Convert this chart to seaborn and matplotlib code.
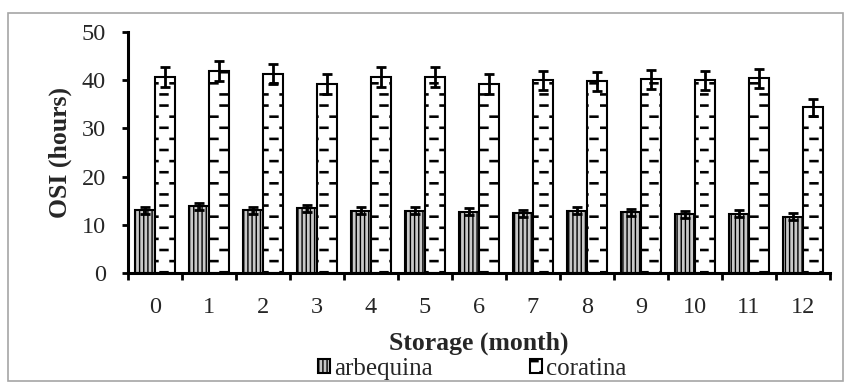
import numpy as np
import pandas as pd
import matplotlib
matplotlib.use("Agg")
import matplotlib.pyplot as plt
import seaborn as sns
from matplotlib import hatch as mhatch
from matplotlib.path import Path
from matplotlib.patches import Rectangle

# data
months = [str(m) for m in range(13)]
arbequina = [13.0, 13.8, 13.0, 13.4, 12.9, 12.9, 12.7, 12.4, 12.9, 12.6, 12.2, 12.3, 11.7]
arbequina_err = [0.7, 0.8, 0.7, 0.8, 0.7, 0.7, 0.7, 0.7, 0.7, 0.7, 0.7, 0.7, 0.7]
coratina = [40.6, 41.9, 41.3, 39.2, 40.6, 40.6, 39.2, 40.0, 39.8, 40.2, 40.0, 40.4, 34.4]
coratina_err = [2.1, 2.1, 2.1, 2.0, 2.1, 2.1, 2.0, 2.0, 2.0, 2.0, 2.0, 2.0, 1.8]
cultivars = ["arbequina", "coratina"]


# excel-like "dashed horizontal" fill: short staggered dashes instead of full lines
class DashedHorizontalHatch(mhatch.HatchPatternBase):
    def __init__(self, hatch, density):
        n = hatch.count('-')
        self.rows = 9 * n
        self.cols = 5
        self.num_vertices = self.rows * self.cols * 5 if n else 0

    def set_vertices_and_codes(self, vertices, codes):
        dash, thick = 0.08, 0.006
        k = 0
        for i in range(self.rows):
            y = (i + 0.5) / self.rows
            shift = 0.5 if i % 2 else 0.0
            for j in range(self.cols):
                x0 = (j + shift) / self.cols
                pts = [(x0, y - thick), (x0 + dash, y - thick),
                       (x0 + dash, y + thick), (x0, y + thick), (x0, y - thick)]
                vertices[k:k + 5] = pts
                codes[k:k + 5] = [Path.MOVETO, Path.LINETO, Path.LINETO,
                                  Path.LINETO, Path.CLOSEPOLY]
                k += 5


mhatch._hatch_types = [DashedHorizontalHatch if t is mhatch.HorizontalHatch else t
                       for t in mhatch._hatch_types]

sns.set_style("white")
plt.rcParams['font.family'] = ['Liberation Serif', 'DejaVu Serif']
plt.rcParams['hatch.linewidth'] = 1.0

df = pd.DataFrame({
    "month": months * 2,
    "cultivar": [cultivars[0]] * len(months) + [cultivars[1]] * len(months),
    "osi": arbequina + coratina,
})

fig = plt.figure(figsize=(8.44, 3.82), dpi=100)
ax = fig.add_axes([128 / 844, 1 - 273 / 382, 702 / 844, 241 / 382])

sns.barplot(data=df, x="month", y="osi", hue="cultivar", order=months,
            hue_order=cultivars, palette=["#c8c8c8", "white"], saturation=1,
            width=0.74, edgecolor="black", linewidth=1.5, errorbar=None, ax=ax)

bar_sets = list(ax.containers)
hatches = ["||||", "-"]
errs = [arbequina_err, coratina_err]
for cont, h, err in zip(bar_sets, hatches, errs):
    xs = []
    ys = []
    for bar in cont.patches:
        bar.set_hatch(h)
        xs.append(bar.get_x() + bar.get_width() / 2)
        ys.append(bar.get_height())
    ax.errorbar(xs, ys, yerr=err, fmt="none", ecolor="black", elinewidth=2,
                capsize=3.5, capthick=2, zorder=5)

ax.set_ylim(0, 50)
ax.set_yticks([0, 10, 20, 30, 40, 50])
ax.set_xlim(-0.5, 12.5)
ax.set_xticks(np.arange(13))
ax.set_xticklabels(months)
ax.set_xticks(np.arange(-0.5, 13), minor=True)
ax.tick_params(axis="x", which="major", length=0, pad=17, labelsize=17.5)
ax.tick_params(axis="x", which="minor", length=5, width=2, direction="out", color="black")
ax.tick_params(axis="y", length=4, width=2, direction="out", color="black", pad=12, labelsize=17.5)
ax.tick_params(left=True, bottom=True)
ax.xaxis.set_tick_params(which="minor", bottom=True)

for side in ["top", "right"]:
    ax.spines[side].set_visible(False)
for side in ["left", "bottom"]:
    ax.spines[side].set_color("black")
    ax.spines[side].set_linewidth(2.2)

ax.set_xlabel("Storage (month)", fontsize=18.5, fontweight="bold", labelpad=10)
ax.set_ylabel("OSI (hours)", fontsize=18.5, fontweight="bold", labelpad=7)

ax.get_legend().remove()
handles = [cont.patches[0] for cont in bar_sets]
fig.legend(handles, cultivars, loc="center", bbox_to_anchor=(472 / 844, 1 - 369 / 382),
           ncol=2, frameon=False, handlelength=0.5, handleheight=0.5,
           handletextpad=0.15, columnspacing=3.9, fontsize=18, borderpad=0)

# light grey chart-area border
fig.patches.append(Rectangle((8 / 844, 0.002), 835 / 844, 1 - 13 / 382 - 0.002,
                             transform=fig.transFigure, fill=False,
                             edgecolor="#a6a6a6", linewidth=1.2))

fig.savefig("out.png", dpi=100)
